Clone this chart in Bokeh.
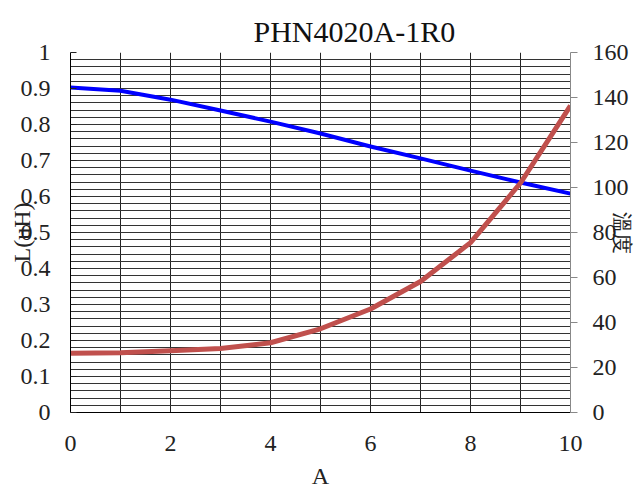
import math
from bokeh.plotting import figure
from bokeh.models import Range1d, LinearAxis, FixedTicker
from bokeh.embed import file_html
from bokeh.resources import INLINE

# data
current_a = [0, 1, 2, 3, 4, 5, 6, 7, 8, 9, 10]
inductance_uh = [0.903, 0.894, 0.869, 0.839, 0.808, 0.775, 0.739, 0.706, 0.672, 0.639, 0.608]
temperature_c = [26.3, 26.6, 27.4, 28.4, 31.0, 37.2, 46.0, 58.2, 75.5, 102.0, 136.4]

x_ticks = [0, 2, 4, 6, 8, 10]
left_ticks = [0, 0.1, 0.2, 0.3, 0.4, 0.5, 0.6, 0.7, 0.8, 0.9, 1]
left_tick_labels = ["0", "0.1", "0.2", "0.3", "0.4", "0.5", "0.6", "0.7", "0.8", "0.9", "1"]
right_ticks = [0, 20, 40, 60, 80, 100, 120, 140, 160]
v_grid = list(range(11))
h_grid = [round(i * 0.02, 2) for i in range(51)]

title = "PHN4020A-1R0"
x_label = "A"
left_label = "L(uH)"
right_label = "溫度"

SERIF = "Liberation Serif"

p = figure(width=636, height=491, output_backend="svg", toolbar_location=None,
           x_range=Range1d(0, 10), y_range=Range1d(0, 1),
           min_border_left=70, min_border_right=64, min_border_top=52, min_border_bottom=79)
p.extra_y_ranges = {"temp": Range1d(0, 160)}
p.outline_line_color = None
p.background_fill_color = "white"
p.border_fill_color = "white"

p.title.text = title
p.title.text_font = SERIF
p.title.text_font_size = "30px"
p.title.text_font_style = "normal"
p.title.text_color = "#111111"
p.title.align = "left"
p.title.offset = 183

# grids
p.xgrid.ticker = FixedTicker(ticks=v_grid)
p.xgrid.grid_line_color = "#222222"
p.xgrid.grid_line_width = 1
p.ygrid.ticker = FixedTicker(ticks=h_grid)
p.ygrid.grid_line_color = "#333333"
p.ygrid.grid_line_width = 1

# x axis
xa = p.xaxis[0]
xa.ticker = FixedTicker(ticks=x_ticks)
xa.major_tick_in = 0
xa.major_tick_out = 0
xa.minor_tick_line_color = None
xa.axis_line_color = "black"
xa.major_label_text_font = SERIF
xa.major_label_text_font_size = "24px"
xa.major_label_text_color = "#222222"
xa.major_label_standoff = 23
xa.axis_label = x_label
xa.axis_label_text_font = SERIF
xa.axis_label_text_font_size = "24px"
xa.axis_label_text_font_style = "normal"
xa.axis_label_text_color = "#222222"
xa.axis_label_standoff = 9

# left axis
ya = p.yaxis[0]
ya.ticker = FixedTicker(ticks=left_ticks)
ya.major_label_overrides = {t: s for t, s in zip(left_ticks, left_tick_labels)}
ya.major_tick_in = 6
ya.major_tick_out = 0
ya.major_tick_line_color = "#222222"
ya.minor_tick_line_color = None
ya.axis_line_color = "black"
ya.major_label_text_font = SERIF
ya.major_label_text_font_size = "24px"
ya.major_label_text_color = "#222222"
ya.major_label_standoff = 20
ya.axis_label = left_label
ya.axis_label_text_font = SERIF
ya.axis_label_text_font_size = "24px"
ya.axis_label_text_font_style = "normal"
ya.axis_label_text_color = "#222222"
ya.axis_label_standoff = -17

# right axis
ra = LinearAxis(y_range_name="temp", ticker=FixedTicker(ticks=right_ticks))
ra.axis_line_color = "#888888"
ra.major_tick_in = 0
ra.major_tick_out = 7
ra.major_tick_line_color = "#888888"
ra.minor_tick_line_color = None
ra.major_label_text_font = SERIF
ra.major_label_text_font_size = "24px"
ra.major_label_text_color = "#222222"
ra.major_label_standoff = 15
ra.axis_label = right_label
ra.axis_label_text_font = SERIF
ra.axis_label_text_font_size = "21px"
ra.axis_label_text_font_style = "normal"
ra.axis_label_text_color = "#222222"
ra.axis_label_standoff = -22
p.add_layout(ra, "right")

p.line(current_a, inductance_uh, line_color="#0000FF", line_width=4, line_join="round")
p.line(current_a, temperature_c, line_color="#C0504D", line_width=5, line_join="round",
       y_range_name="temp")

open("out.html", "w").write(file_html(p, INLINE))
